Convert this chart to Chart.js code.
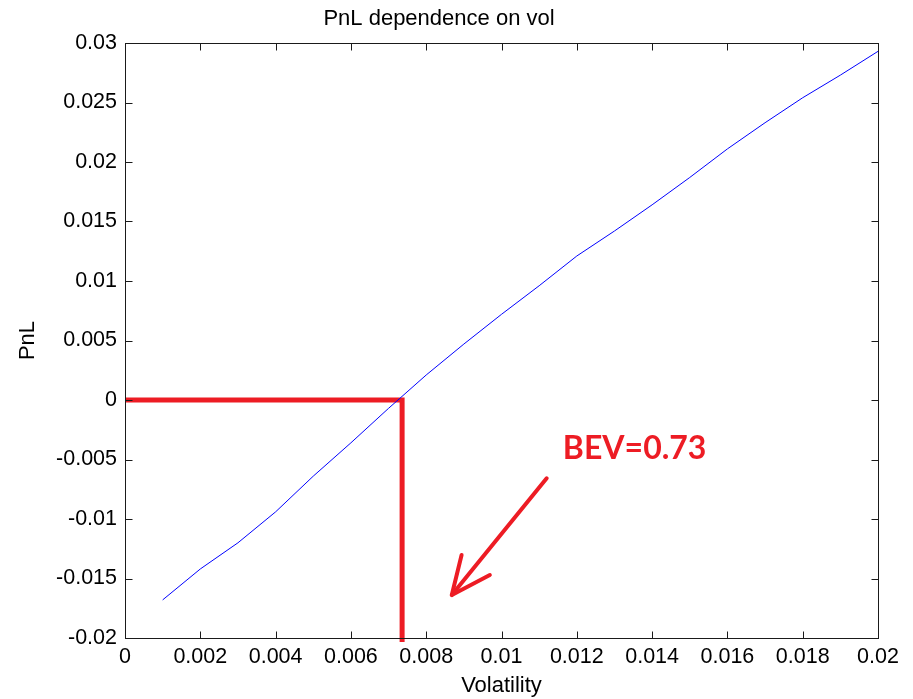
<!DOCTYPE html>
<html lang="en">
<head>
<meta charset="UTF-8">
<title>PnL dependence on vol</title>
<script src="https://cdn.jsdelivr.net/npm/chart.js@4.4.1/dist/chart.umd.min.js"></script>
<style>
    html, body { margin: 0; padding: 0; background: #fff; }
    #wrap { width: 913px; height: 699px; }
</style>
</head>
<body>
<div id="wrap"><canvas id="pnlChart" width="913" height="699"></canvas></div>
<script>
// volatility (x) and the PnL (y)
var volatility = [0.001, 0.002, 0.003, 0.004, 0.005, 0.006, 0.007, 0.008, 0.009, 0.010,
                  0.011, 0.012, 0.013, 0.014, 0.015, 0.016, 0.017, 0.018, 0.019, 0.020];
var pnl = [-0.0168, -0.0142, -0.0120, -0.0094, -0.0064, -0.0036, -0.0007, 0.0021, 0.0047, 0.0072,
           0.0096, 0.0121, 0.0142, 0.0164, 0.0187, 0.0211, 0.0233, 0.0254, 0.0273, 0.0293];

// break-even vol marker (red corner), drawn a touch past the bottom axis like the original
var bevX = [0, 0.00736, 0.00736];
var bevY = [0, 0, -0.02034];

// hand drawn arrow, in data units
var arrowX = [0.0112, 0.00868];
var arrowY = [-0.00658, -0.01639];
var barbX = [0.00894, 0.00868, 0.00969];
var barbY = [-0.01303, -0.01639, -0.01471];

var bevText = "BEV=0.73";
var bevTextAt = [0.01163, -0.00497];

function pts(xs, ys) {
    var out = [];
    for (var i = 0; i < xs.length; i++) out.push({ x: xs[i], y: ys[i] });
    return out;
}

function fmt(v) {
    return String(+Number(v).toFixed(4));
}

var RED = "#ed1c24";

// matlab style frame: box with inward ticks on all four sides + annotation text
var framePlugin = {
    id: "frame",
    afterDraw: function (chart) {
        var ctx = chart.ctx, a = chart.chartArea;
        var xs = chart.scales.x, ys = chart.scales.y;
        var L = Math.round(a.left) + 0.5, R = Math.round(a.right) + 0.5;
        var T = Math.round(a.top) + 0.5, B = Math.round(a.bottom) + 0.5;
        var len = 7;
        ctx.save();
        ctx.strokeStyle = "#1a1a1a";
        ctx.lineWidth = 1;
        ctx.strokeRect(L, T, R - L, B - T);
        ctx.beginPath();
        xs.ticks.forEach(function (t) {
            var px = Math.round(xs.getPixelForValue(t.value)) + 0.5;
            ctx.moveTo(px, B); ctx.lineTo(px, B - len);
            ctx.moveTo(px, T); ctx.lineTo(px, T + len);
        });
        ys.ticks.forEach(function (t) {
            var py = Math.round(ys.getPixelForValue(t.value)) + 0.5;
            ctx.moveTo(L, py); ctx.lineTo(L + len, py);
            ctx.moveTo(R, py); ctx.lineTo(R - len, py);
        });
        ctx.stroke();

        ctx.fillStyle = RED;
        ctx.font = "bold 32px Lato, 'Open Sans', sans-serif";
        ctx.textAlign = "left";
        ctx.textBaseline = "alphabetic";
        ctx.fillText(bevText, xs.getPixelForValue(bevTextAt[0]), ys.getPixelForValue(bevTextAt[1]));
        ctx.restore();
    }
};

Chart.defaults.font.family = "'Liberation Sans', Arial, sans-serif";
Chart.defaults.color = "#000";

new Chart(document.getElementById("pnlChart"), {
    type: "scatter",
    data: {
        datasets: [
            {
                data: pts(volatility, pnl),
                showLine: true,
                borderColor: "#0000ff",
                borderWidth: 1,
                pointRadius: 0,
                tension: 0
            },
            {
                data: pts(bevX, bevY),
                showLine: true,
                clip: false,
                borderColor: RED,
                borderWidth: 5,
                borderJoinStyle: "miter",
                pointRadius: 0
            },
            {
                data: pts(arrowX, arrowY),
                showLine: true,
                borderColor: RED,
                borderWidth: 4,
                borderCapStyle: "round",
                pointRadius: 0
            },
            {
                data: pts(barbX, barbY),
                showLine: true,
                borderColor: RED,
                borderWidth: 4,
                borderCapStyle: "round",
                borderJoinStyle: "round",
                pointRadius: 0
            }
        ]
    },
    options: {
        responsive: false,
        animation: false,
        layout: { padding: { right: 35, top: 0, bottom: 0, left: 0 } },
        plugins: {
            legend: { display: false },
            tooltip: { enabled: false },
            title: {
                display: true,
                text: "PnL dependence on vol",
                color: "#000",
                font: { size: 22, weight: "normal" },
                padding: { top: 6, bottom: 10.6 }
            }
        },
        scales: {
            x: {
                type: "linear",
                min: 0,
                max: 0.02,
                grid: { display: true, drawOnChartArea: false, drawTicks: false },
                border: { display: false },
                ticks: { stepSize: 0.002, padding: 6, maxRotation: 0, font: { size: 21.5 }, callback: fmt },
                title: { display: true, text: "Volatility", font: { size: 22 }, padding: { top: 0, bottom: 0 } },
                afterFit: function (s) { s.height = 61; }
            },
            y: {
                type: "linear",
                min: -0.02,
                max: 0.03,
                grid: { display: true, drawOnChartArea: false, drawTicks: false },
                border: { display: false },
                ticks: { stepSize: 0.005, padding: 8, font: { size: 21.5 }, callback: fmt },
                title: { display: true, text: "PnL", font: { size: 22 }, padding: { top: 15, bottom: 0 } },
                afterFit: function (s) { s.width = 125; }
            }
        }
    },
    plugins: [framePlugin]
});
</script>
</body>
</html>
